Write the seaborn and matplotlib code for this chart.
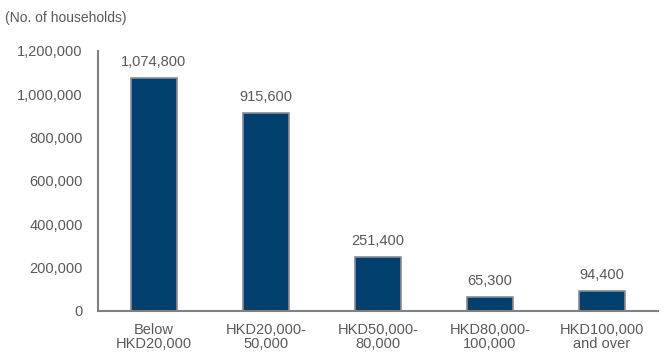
import matplotlib
matplotlib.use("Agg")
import matplotlib.pyplot as plt
import seaborn as sns
import pandas as pd

categories = ["Below\nHKD20,000", "HKD20,000-\n50,000", "HKD50,000-\n80,000",
              "HKD80,000-\n100,000", "HKD100,000\nand over"]
households = [1074800, 915600, 251400, 65300, 94400]
y_ticks = [0, 200000, 400000, 600000, 800000, 1000000, 1200000]

df = pd.DataFrame({"band": categories, "households": households})

sns.set_theme(style="white")
plt.rcParams["font.family"] = ["Liberation Sans", "DejaVu Sans"]

text_col = "#595959"
axis_col = "#808080"

fig = plt.figure(figsize=(6.64, 3.58), dpi=100)
ax = fig.add_axes([98 / 664, 47 / 358, 560 / 664, 260 / 358])

sns.barplot(data=df, x="band", y="households", ax=ax, color="#003f6e",
            width=0.41, edgecolor="#8c8c8c", linewidth=1.2, saturation=1)

for i, v in enumerate(households):
    ax.text(i, v + 40000, f"{v:,}", ha="center", va="bottom",
            fontsize=10.5, color=text_col)

ax.set_ylim(0, 1200000)
ax.set_xlim(-0.5, len(categories) - 0.5)
ax.set_yticks(y_ticks)
ax.set_yticklabels([f"{t:,}" for t in y_ticks])
ax.set_xticks(range(len(categories)))
ax.set_xticklabels(categories, linespacing=1.0)
ax.set_xlabel("")
ax.set_ylabel("")

# x ticks sit at the category boundaries
ax.set_xticks([i - 0.5 for i in range(len(categories) + 1)], minor=True)
ax.tick_params(axis="x", which="major", length=0, pad=9, labelsize=10.5, colors=text_col)
ax.tick_params(axis="x", which="minor", length=5, width=1.2, color=axis_col, direction="out")
ax.tick_params(axis="y", length=5, width=1.2, color=axis_col, direction="out",
               labelsize=10.5, labelcolor=text_col, pad=6)

for s in ["top", "right"]:
    ax.spines[s].set_visible(False)
for s in ["left", "bottom"]:
    ax.spines[s].set_color(axis_col)
    ax.spines[s].set_linewidth(1.5)

fig.text(5 / 664, 1 - 18 / 358, "(No. of households)", fontsize=10,
         color=text_col, va="center", ha="left")

fig.savefig("out.png", dpi=100)
